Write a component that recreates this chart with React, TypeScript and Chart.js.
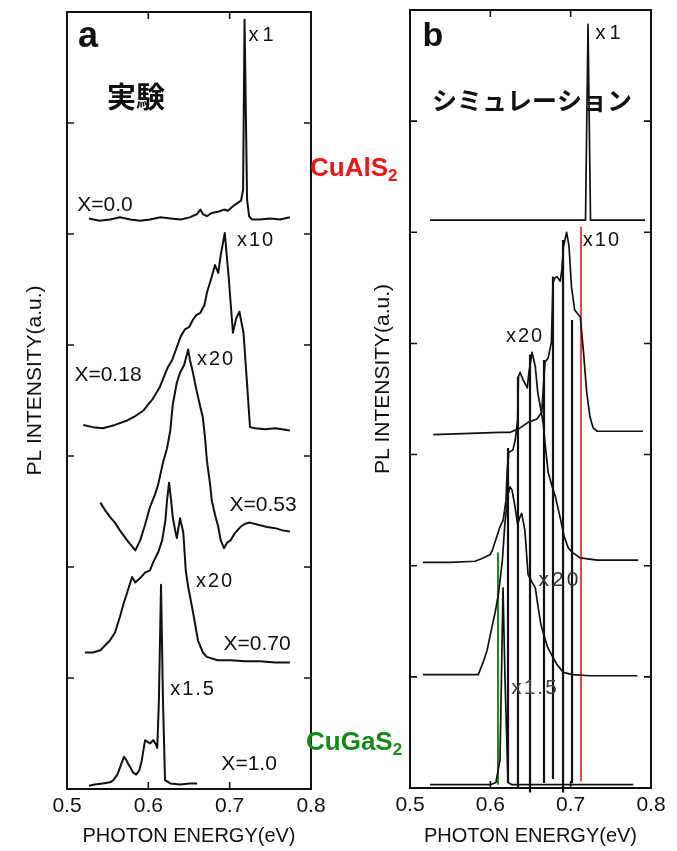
import React, { useEffect, useRef } from "react";
import { Chart, registerables } from "chart.js";

Chart.register(...registerables);

// ---------- axes ----------
const X_MIN = 0.5;
const X_MAX = 0.8;
const Y_MIN = 0;
const Y_MAX = 7;
const innerXTicks = [0.6, 0.7];
const innerYTicks = [1, 2, 3, 4, 5, 6];
const X_TITLE = "PHOTON ENERGY(eV)";
const Y_TITLE = "PL INTENSITY(a.u.)";

// ---------- panel a (experiment) ----------
const a00E = [0.527, 0.54, 0.553, 0.565, 0.578, 0.59, 0.602, 0.615, 0.627, 0.64, 0.651, 0.66, 0.664, 0.667, 0.672, 0.678, 0.686, 0.693, 0.698, 0.704, 0.71, 0.714, 0.7165, 0.7183, 0.7214, 0.7239, 0.7276, 0.737, 0.75, 0.762, 0.774];
const a00I = [5.14, 5.12, 5.13, 5.15, 5.13, 5.12, 5.13, 5.15, 5.14, 5.13, 5.15, 5.18, 5.22, 5.18, 5.16, 5.19, 5.2, 5.22, 5.21, 5.25, 5.28, 5.3, 5.4, 6.93, 5.31, 5.16, 5.13, 5.13, 5.14, 5.13, 5.15];

const a18E = [0.52, 0.532, 0.544, 0.559, 0.574, 0.584, 0.594, 0.605, 0.614, 0.624, 0.629, 0.635, 0.64, 0.645, 0.65, 0.655, 0.659, 0.664, 0.669, 0.672, 0.677, 0.682, 0.686, 0.689, 0.694, 0.699, 0.704, 0.708, 0.712, 0.717, 0.721, 0.725, 0.731, 0.744, 0.756, 0.774];
const a18I = [3.28, 3.26, 3.25, 3.28, 3.32, 3.36, 3.41, 3.51, 3.62, 3.8, 3.86, 3.98, 4.08, 4.14, 4.16, 4.23, 4.27, 4.29, 4.36, 4.47, 4.59, 4.72, 4.65, 4.81, 5.01, 4.59, 4.11, 4.24, 4.3, 4.11, 3.69, 3.26, 3.25, 3.24, 3.25, 3.23];

const a53E = [0.541, 0.547, 0.553, 0.559, 0.565, 0.574, 0.584, 0.59, 0.596, 0.602, 0.608, 0.612, 0.618, 0.623, 0.627, 0.63, 0.635, 0.639, 0.644, 0.649, 0.651, 0.654, 0.659, 0.664, 0.667, 0.67, 0.672, 0.676, 0.678, 0.682, 0.686, 0.689, 0.693, 0.697, 0.701, 0.707, 0.713, 0.719, 0.725, 0.735, 0.746, 0.756, 0.765, 0.774];
const a53I = [2.58, 2.51, 2.45, 2.4, 2.33, 2.24, 2.15, 2.24, 2.38, 2.54, 2.65, 2.74, 2.94, 3.07, 3.23, 3.46, 3.66, 3.75, 3.82, 3.96, 3.87, 3.78, 3.6, 3.44, 3.35, 3.14, 2.96, 2.74, 2.6, 2.47, 2.36, 2.24, 2.17, 2.22, 2.24, 2.31, 2.36, 2.39, 2.4, 2.38, 2.36, 2.35, 2.33, 2.32];

const a70E = [0.522, 0.532, 0.541, 0.553, 0.559, 0.565, 0.57, 0.574, 0.58, 0.584, 0.59, 0.596, 0.602, 0.607, 0.612, 0.617, 0.621, 0.623, 0.6255, 0.628, 0.63, 0.633, 0.635, 0.639, 0.643, 0.646, 0.649, 0.655, 0.661, 0.667, 0.672, 0.685, 0.701, 0.719, 0.737, 0.756, 0.774];
const a70I = [1.23, 1.23, 1.25, 1.34, 1.41, 1.55, 1.68, 1.77, 1.91, 1.86, 1.9, 1.95, 1.97, 2.06, 2.13, 2.24, 2.42, 2.6, 2.76, 2.6, 2.45, 2.33, 2.26, 2.44, 2.31, 1.97, 1.82, 1.59, 1.34, 1.23, 1.19, 1.16, 1.16, 1.15, 1.15, 1.14, 1.14];

const a100E = [0.527, 0.534, 0.544, 0.553, 0.557, 0.562, 0.565, 0.57, 0.573, 0.575, 0.579, 0.581, 0.585, 0.589, 0.592, 0.596, 0.6, 0.602, 0.606, 0.6095, 0.611, 0.613, 0.6156, 0.618, 0.6205, 0.627, 0.639, 0.651, 0.66];
const a100I = [0.03, 0.04, 0.05, 0.06, 0.08, 0.13, 0.19, 0.29, 0.26, 0.23, 0.18, 0.15, 0.13, 0.17, 0.26, 0.44, 0.42, 0.41, 0.44, 0.4, 0.37, 0.8, 1.84, 0.8, 0.08, 0.05, 0.04, 0.05, 0.05];

// ---------- panel b (simulation) ----------
const b00E = [0.525, 0.7185, 0.7216, 0.7247, 0.7925];
const b00I = [5.11, 5.11, 6.87, 5.11, 5.11];

const b18E = [0.529, 0.575, 0.612, 0.625, 0.637, 0.647, 0.658, 0.664, 0.668, 0.672, 0.676, 0.678, 0.6805, 0.683, 0.687, 0.689, 0.691, 0.695, 0.698, 0.701, 0.705, 0.7095, 0.712, 0.716, 0.72, 0.724, 0.728, 0.733, 0.79];
const b18I = [3.18, 3.19, 3.2, 3.2, 3.24, 3.29, 3.32, 3.38, 3.83, 3.87, 4.01, 4.55, 4.59, 4.6, 4.56, 4.66, 4.87, 5.0, 4.87, 4.51, 4.3, 4.26, 4.24, 3.92, 3.56, 3.34, 3.24, 3.21, 3.21];

const b53E = [0.516, 0.55, 0.581, 0.591, 0.6, 0.603, 0.608, 0.612, 0.616, 0.6195, 0.621, 0.623, 0.628, 0.631, 0.634, 0.635, 0.637, 0.641, 0.646, 0.648, 0.652, 0.656, 0.659, 0.663, 0.666, 0.668, 0.672, 0.677, 0.681, 0.687, 0.692, 0.697, 0.702, 0.712, 0.733, 0.784];
const b53I = [2.03, 2.03, 2.04, 2.07, 2.1, 2.15, 2.26, 2.35, 2.41, 2.59, 2.86, 3.02, 3.04, 3.13, 3.31, 3.7, 3.74, 3.67, 3.6, 3.74, 3.92, 3.79, 3.56, 3.4, 3.27, 3.11, 2.84, 2.71, 2.62, 2.43, 2.26, 2.16, 2.12, 2.07, 2.05, 2.05];

const b70E = [0.516, 0.55, 0.585, 0.591, 0.596, 0.6, 0.606, 0.61, 0.615, 0.618, 0.622, 0.6245, 0.627, 0.631, 0.634, 0.637, 0.639, 0.643, 0.647, 0.652, 0.656, 0.659, 0.663, 0.671, 0.683, 0.691, 0.702, 0.724, 0.783];
const b70I = [1.02, 1.02, 1.02, 1.13, 1.24, 1.38, 1.58, 1.74, 2.05, 2.37, 2.64, 2.71, 2.68, 2.52, 2.37, 2.44, 2.47, 2.32, 1.92, 1.85, 1.8, 1.65, 1.47, 1.27, 1.11, 1.04, 1.02, 1.01, 1.01];

const b100E = [0.525, 0.575, 0.6, 0.607, 0.612, 0.6158, 0.6183, 0.622, 0.627, 0.687, 0.778];
const b100I = [0.03, 0.03, 0.03, 0.05, 0.25, 1.8, 0.97, 0.05, 0.03, 0.03, 0.03];

// vertical peak markers in panel b
const stickE = [0.622, 0.6344, 0.6494, 0.6668, 0.678, 0.6905, 0.7017];
const stickTop = [3.06, 3.7, 3.9, 3.85, 4.6, 4.93, 4.21];
const stickBottom = [0.045, 0.01, -0.04, 0.045, 0.08, -0.04, 0.045];
const cuAlS2E = 0.7129;
const cuAlS2Span = [0.06, 5.05];
const cuGaS2E = 0.6095;
const cuGaS2Span = [0.03, 2.12];

// ---------- styles ----------
const INK = "#111111";
const RED = "#ee1515";
const GREEN = "#168a16";
const LATIN = '"Liberation Sans", Arial, Helvetica, sans-serif';
const CJK = '"Noto Sans CJK JP", "Noto Sans CJK SC", sans-serif';

type Label = { text: string; x: number; y: number; font: string; color?: string; spacing?: string };

const MULT = `20px ${LATIN}`;
const COMP = `21px ${LATIN}`;

const labelsA: Label[] = [
  { text: "a", x: 0.5258, y: 6.77, font: `bold 36px ${LATIN}` },
  { text: "実験", x: 0.5849, y: 6.23, font: `bold 29px ${CJK}` },
  { text: "x1", x: 0.7411, y: 6.79, font: MULT, spacing: "4px" },
  { text: "X=0.0", x: 0.5467, y: 5.26, font: COMP },
  { text: "x10", x: 0.7325, y: 4.94, font: MULT, spacing: "2px" },
  { text: "X=0.18", x: 0.5504, y: 3.73, font: COMP },
  { text: "x20", x: 0.6833, y: 3.87, font: MULT, spacing: "2px" },
  { text: "X=0.53", x: 0.7411, y: 2.56, font: COMP },
  { text: "x20", x: 0.682, y: 1.87, font: MULT, spacing: "2px" },
  { text: "X=0.70", x: 0.7337, y: 1.3, font: COMP },
  { text: "x1.5", x: 0.655, y: 0.9, font: MULT, spacing: "2px" },
  { text: "X=1.0", x: 0.7239, y: 0.22, font: COMP },
];

const labelsB: Label[] = [
  { text: "b", x: 0.5286, y: 6.76, font: `bold 34px ${LATIN}` },
  { text: "シミュレーション", x: 0.6519, y: 6.19, font: `bold 25px ${CJK}` },
  { text: "x1", x: 0.749, y: 6.79, font: MULT, spacing: "4px" },
  { text: "x10", x: 0.739, y: 4.93, font: MULT, spacing: "2px" },
  { text: "x20", x: 0.6432, y: 4.06, font: MULT, spacing: "2px" },
  { text: "x20", x: 0.6867, y: 1.87, font: `21px ${LATIN}`, spacing: "3px", color: "#333" },
  { text: "x1.5", x: 0.6556, y: 0.9, font: `21px ${LATIN}`, spacing: "2px", color: "#444" },
];

function pts(xs: number[], ys: number[]) {
  return xs.map((x, i) => ({ x, y: ys[i] }));
}

function curve(xs: number[], ys: number[], width: number, color = INK, clip: any = undefined) {
  const ds: any = {
    data: pts(xs, ys),
    showLine: true,
    borderColor: color,
    backgroundColor: color,
    borderWidth: width,
    pointRadius: 0,
    tension: 0,
    fill: false,
    borderJoinStyle: "round",
  };
  if (clip !== undefined) ds.clip = clip;
  return ds;
}

const framePlugin = {
  id: "frame",
  afterDraw(chart: any, _args: any, opts: any) {
    const { ctx, chartArea: ca, scales } = chart;
    const xs = scales.x;
    const ys = scales.y;
    ctx.save();
    ctx.strokeStyle = INK;
    ctx.lineWidth = 2;
    ctx.strokeRect(ca.left, ca.top, ca.right - ca.left, ca.bottom - ca.top);
    ctx.lineWidth = 1.6;
    const L = 7;
    ctx.beginPath();
    for (const v of innerYTicks) {
      const py = ys.getPixelForValue(v);
      ctx.moveTo(ca.left, py);
      ctx.lineTo(ca.left + L, py);
      ctx.moveTo(ca.right, py);
      ctx.lineTo(ca.right - L, py);
    }
    for (const v of innerXTicks) {
      const px = xs.getPixelForValue(v);
      ctx.moveTo(px, ca.top);
      ctx.lineTo(px, ca.top + L);
      ctx.moveTo(px, ca.bottom);
      ctx.lineTo(px, ca.bottom - L);
    }
    ctx.stroke();
    ctx.restore();

    // y axis title
    ctx.save();
    ctx.translate(ca.left - opts.yTitleDx, (ca.top + ca.bottom) / 2 - 20);
    ctx.rotate(-Math.PI / 2);
    ctx.font = `21px ${LATIN}`;
    ctx.fillStyle = INK;
    ctx.textAlign = "center";
    ctx.textBaseline = "middle";
    ctx.fillText(Y_TITLE, 0, 0);
    ctx.restore();

    // annotations
    for (const lb of opts.labels as Label[]) {
      ctx.save();
      ctx.font = lb.font;
      ctx.fillStyle = lb.color || INK;
      ctx.textAlign = "center";
      ctx.textBaseline = "middle";
      if (lb.spacing) (ctx as any).letterSpacing = lb.spacing;
      ctx.fillText(lb.text, xs.getPixelForValue(lb.x), ys.getPixelForValue(lb.y));
      ctx.restore();
    }
  },
};

function makeConfig(datasets: any[], labels: Label[], yAxisWidth: number, xAxisHeight: number, padTop: number, padRight: number, yTitleDx: number): any {
  return {
    type: "scatter",
    data: { datasets },
    options: {
      animation: false,
      responsive: false,
      devicePixelRatio: 1,
      events: [],
      layout: { padding: { top: padTop, right: padRight, left: 0, bottom: 0 } },
      plugins: {
        legend: { display: false },
        tooltip: { enabled: false },
        frame: { labels, yTitleDx },
      },
      scales: {
        x: {
          type: "linear",
          min: X_MIN,
          max: X_MAX,
          grid: { display: false, drawTicks: false },
          border: { display: false },
          ticks: {
            stepSize: 0.1,
            autoSkip: false,
            padding: 5,
            color: INK,
            font: { family: LATIN, size: 21 },
            callback: (v: any) => Number(v).toFixed(1),
          },
          title: {
            display: true,
            text: X_TITLE,
            color: INK,
            font: { family: LATIN, size: 20 },
            padding: { top: 0, bottom: 3 },
          },
          afterFit: (s: any) => {
            s.height = xAxisHeight;
          },
        },
        y: {
          type: "linear",
          min: Y_MIN,
          max: Y_MAX,
          grid: { display: false, drawTicks: false },
          border: { display: false },
          ticks: { display: false },
          afterFit: (s: any) => {
            s.width = yAxisWidth;
          },
        },
      },
    },
    plugins: [framePlugin],
  };
}

const datasetsA = [
  curve(a00E, a00I, 2),
  curve(a18E, a18I, 2),
  curve(a53E, a53I, 2),
  curve(a70E, a70I, 2),
  curve(a100E, a100I, 2),
];

const datasetsB = [
  curve(b00E, b00I, 1.7),
  curve(b18E, b18I, 1.7),
  curve(b53E, b53I, 1.7),
  curve(b70E, b70I, 1.7),
  curve(b100E, b100I, 1.7),
  ...stickE.map((e, i) => curve([e, e], [stickBottom[i], stickTop[i]], 2.2, INK, false)),
  curve([cuAlS2E, cuAlS2E], cuAlS2Span, 1.6, RED, false),
  curve([cuGaS2E, cuGaS2E], cuGaS2Span, 2, GREEN, false),
];

function Panel({ left, width, height, config }: { left: number; width: number; height: number; config: any }) {
  const ref = useRef<HTMLCanvasElement>(null);
  useEffect(() => {
    const chart = new Chart(ref.current as HTMLCanvasElement, config);
    return () => chart.destroy();
  }, []);
  return (
    <canvas
      ref={ref}
      width={width}
      height={height}
      style={{ position: "absolute", left, top: 0, width, height, display: "block" }}
    />
  );
}

const formula = (color: string): React.CSSProperties => ({
  position: "absolute",
  fontFamily: LATIN,
  fontWeight: "bold",
  fontSize: 26,
  lineHeight: "26px",
  color,
  whiteSpace: "nowrap",
  zIndex: 2,
});

export default function App() {
  const cfgA = makeConfig(datasetsA, labelsA, 67, 62, 12, 29, 32);
  const cfgB = makeConfig(datasetsB, labelsB, 70, 63, 10, 26, 27);
  return (
    <div style={{ position: "fixed", left: 0, top: 0, width: 677, height: 851, background: "#ffffff", overflow: "hidden" }}>
      <Panel left={0} width={340} height={851} config={cfgA} />
      <Panel left={340} width={337} height={851} config={cfgB} />
      <div style={{ ...formula(RED), left: 310, top: 154 }}>
        CuAlS<sub style={{ fontSize: 17, verticalAlign: "-5px" }}>2</sub>
      </div>
      <div style={{ ...formula(GREEN), left: 306, top: 728 }}>
        CuGaS<sub style={{ fontSize: 17, verticalAlign: "-5px" }}>2</sub>
      </div>
    </div>
  );
}
